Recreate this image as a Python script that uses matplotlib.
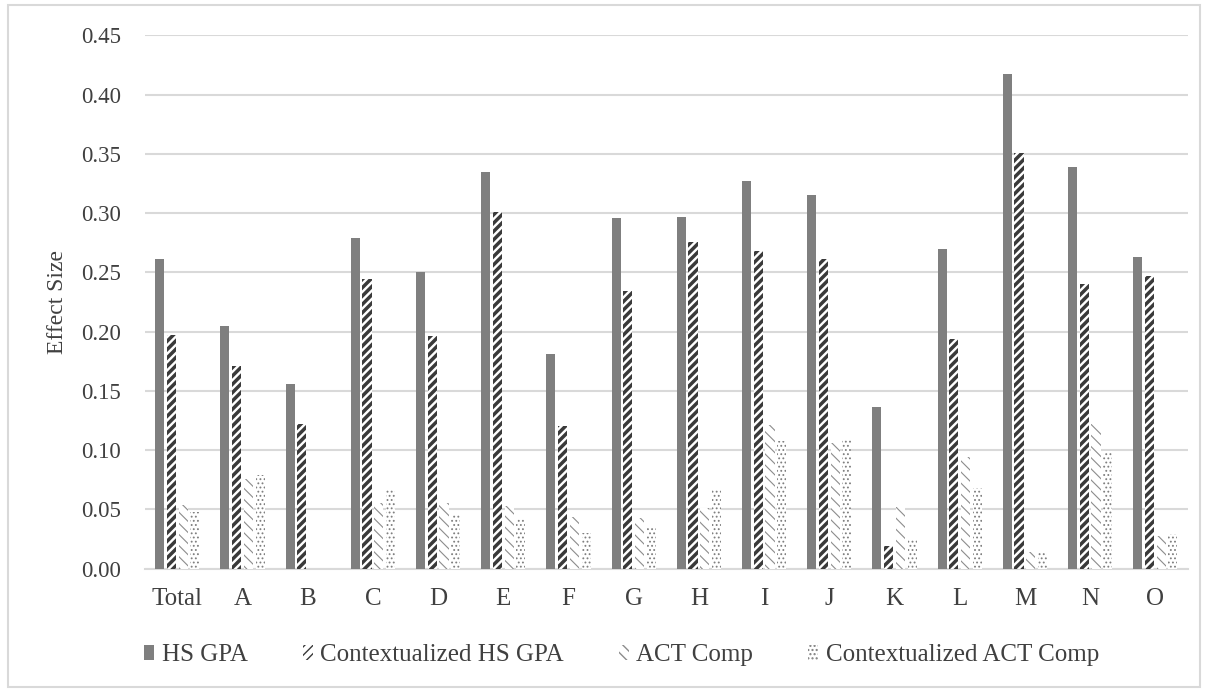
import numpy as np
import matplotlib
matplotlib.use("Agg")
import matplotlib.pyplot as plt
from matplotlib.patches import Rectangle

plt.rcParams['font.family'] = ['Liberation Serif', 'DejaVu Serif']

# Data
categories = ['Total', 'A', 'B', 'C', 'D', 'E', 'F', 'G', 'H', 'I', 'J', 'K', 'L', 'M', 'N', 'O']
hs_gpa = [0.261, 0.205, 0.156, 0.279, 0.250, 0.335, 0.181, 0.296, 0.297, 0.327,
          0.315, 0.136, 0.270, 0.417, 0.339, 0.263]
ctx_hs_gpa = [0.197, 0.171, 0.122, 0.244, 0.196, 0.301, 0.120, 0.234, 0.276, 0.268,
              0.261, 0.019, 0.194, 0.351, 0.240, 0.247]
act_comp = [0.054, 0.076, 0.0, 0.055, 0.055, 0.053, 0.044, 0.043, 0.051, 0.121,
            0.106, 0.052, 0.094, 0.014, 0.122, 0.028]
ctx_act_comp = [0.048, 0.079, 0.0, 0.067, 0.046, 0.043, 0.030, 0.035, 0.066, 0.108,
                0.109, 0.025, 0.068, 0.013, 0.099, 0.029]
series_names = ['HS GPA', 'Contextualized HS GPA', 'ACT Comp', 'Contextualized ACT Comp']

fig = plt.figure(figsize=(12.06, 6.91), dpi=100)
# chart border
fig.patches.append(Rectangle((8 / 1206, 4 / 691), 1192 / 1206, 682 / 691,
                             transform=fig.transFigure, fill=False,
                             edgecolor='#d9d9d9', linewidth=1.5))
ax = fig.add_axes([0.120, 0.177, 0.865, 0.772])

x = np.arange(len(categories))
step = 0.18
width = 0.14
styles = [
    dict(color='#7f7f7f', hatch=None, edge='#7f7f7f', hlw=1.0),
    dict(color='white', hatch='////', edge='#3a3a3a', hlw=2.5),
    dict(color='white', hatch='\\\\\\', edge='#8c8c8c', hlw=0.8),
    dict(color='white', hatch='....', edge='#7f7f7f', hlw=0.8),
]
data = [hs_gpa, ctx_hs_gpa, act_comp, ctx_act_comp]
for i, (vals, name, st) in enumerate(zip(data, series_names, styles)):
    with plt.rc_context({'hatch.linewidth': st['hlw']}):
        ax.bar(x + (i - 1.5) * step, vals, width, color=st['color'],
               edgecolor=st['edge'], hatch=st['hatch'], linewidth=0,
               label=name, zorder=3)

ax.set_ylim(0, 0.45)
ax.set_yticks(np.arange(0, 0.451, 0.05))
ax.set_yticklabels(['%.2f' % v for v in np.arange(0, 0.451, 0.05)])
ax.set_xlim(-0.5, len(categories) - 0.5)
ax.set_xticks(x)
ax.set_xticklabels(categories)
ax.tick_params(axis='x', length=0, labelsize=18, colors='#404040', pad=14)
ax.tick_params(axis='y', length=0, labelsize=16.5, colors='#404040', pad=17)
ax.grid(axis='y', color='#d9d9d9', linewidth=1.5, zorder=0)
for s in ['top', 'right', 'left']:
    ax.spines[s].set_visible(False)
ax.spines['bottom'].set_color('#d9d9d9')
ax.spines['bottom'].set_linewidth(1.5)
ax.set_ylabel('Effect Size', fontsize=17, color='#404040')
ax.yaxis.set_label_coords(-0.074, 0.5)

ax.legend(loc='center', bbox_to_anchor=(0.457, -0.162), ncol=4, frameon=False,
          fontsize=18, labelcolor='#404040', handlelength=0.4, handleheight=0.55,
          handletextpad=0.3, columnspacing=2.2)

fig.savefig('out.png', dpi=100)
